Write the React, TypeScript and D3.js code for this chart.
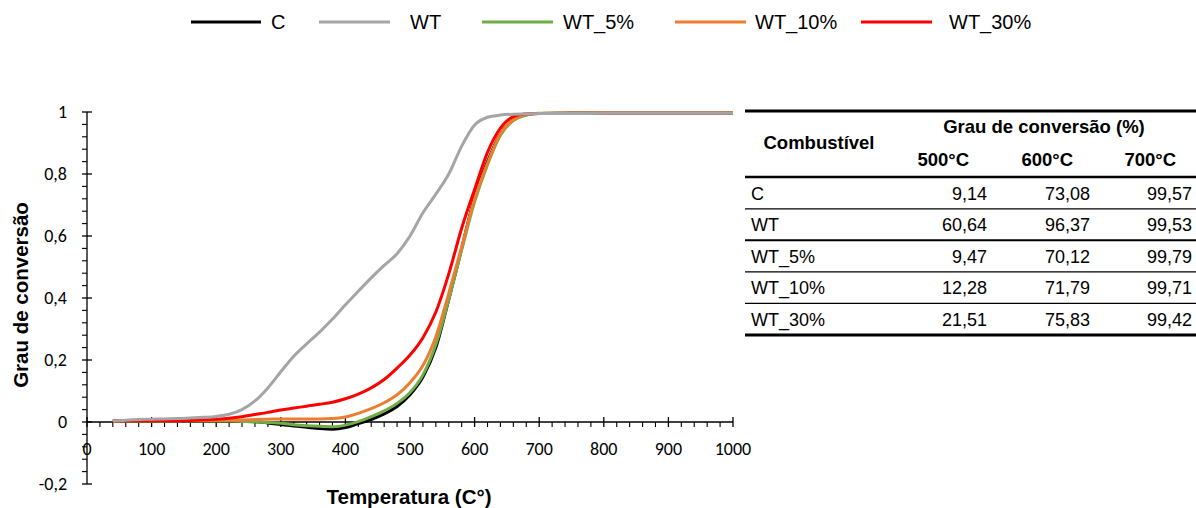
import React from "react";
import * as d3 from "d3";

// temperatura (°C) shared by every series
const temps = [40, 60, 80, 100, 120, 140, 160, 180, 200, 220, 240, 260, 280, 300, 320, 340, 360, 380, 400, 420, 440, 460, 480, 500, 520, 540, 560, 580, 600, 620, 640, 660, 680, 700, 750, 800, 850, 900, 950, 1000];

const serieC = [0.003, 0.003, 0.003, 0.003, 0.003, 0.003, 0.003, 0.003, 0.003, 0.003, 0.002, 0.001, -0.003, -0.008, -0.013, -0.017, -0.021, -0.023, -0.018, -0.005, 0.008, 0.026, 0.05, 0.088, 0.145, 0.24, 0.395, 0.56, 0.725, 0.84, 0.93, 0.975, 0.991, 0.995, 0.996, 0.996, 0.996, 0.996, 0.996, 0.996];
const serieWT = [0.003, 0.006, 0.008, 0.009, 0.01, 0.011, 0.013, 0.015, 0.018, 0.025, 0.04, 0.068, 0.11, 0.162, 0.212, 0.252, 0.29, 0.332, 0.378, 0.422, 0.465, 0.505, 0.543, 0.6, 0.675, 0.735, 0.8, 0.89, 0.958, 0.983, 0.99, 0.993, 0.994, 0.995, 0.995, 0.996, 0.996, 0.996, 0.996, 0.996];
const serieWT5 = [0.003, 0.003, 0.003, 0.003, 0.003, 0.003, 0.003, 0.003, 0.003, 0.003, 0.002, 0.001, -0.002, -0.004, -0.009, -0.012, -0.014, -0.015, -0.01, 0.001, 0.017, 0.036, 0.06, 0.095, 0.152, 0.25, 0.395, 0.555, 0.71, 0.83, 0.925, 0.972, 0.99, 0.996, 0.997, 0.997, 0.997, 0.997, 0.997, 0.997];
const serieWT10 = [0.003, 0.004, 0.004, 0.004, 0.004, 0.004, 0.005, 0.005, 0.005, 0.006, 0.006, 0.008, 0.009, 0.01, 0.01, 0.01, 0.01, 0.011, 0.016, 0.028, 0.043, 0.062, 0.088, 0.127, 0.182, 0.275, 0.415, 0.565, 0.72, 0.835, 0.93, 0.975, 0.992, 0.995, 0.996, 0.996, 0.996, 0.996, 0.996, 0.996];
const serieWT30 = [0.003, 0.004, 0.004, 0.004, 0.004, 0.004, 0.005, 0.007, 0.009, 0.012, 0.017, 0.024, 0.031, 0.039, 0.045, 0.051, 0.057, 0.064, 0.075, 0.09, 0.11, 0.137, 0.174, 0.216, 0.272, 0.355, 0.478, 0.625, 0.75, 0.87, 0.948, 0.985, 0.994, 0.995, 0.996, 0.996, 0.996, 0.996, 0.996, 0.996];

const names = ["C", "WT", "WT_5%", "WT_10%", "WT_30%"];
const colors = ["#000000", "#a5a5a5", "#70ad47", "#ed7d31", "#ff0000"];
const series = [serieC, serieWT, serieWT5, serieWT10, serieWT30];

// tabela
const tableHeader = ["500°C", "600°C", "700°C"];
const conv500 = [9.14, 60.64, 9.47, 12.28, 21.51];
const conv600 = [73.08, 96.37, 70.12, 71.79, 75.83];
const conv700 = [99.57, 99.53, 99.79, 99.71, 99.42];

const W = 1196;
const H = 508;

const x = d3.scaleLinear().domain([0, 1000]).range([87, 733]);
const y = d3.scaleLinear().domain([-0.2, 1]).range([484, 112]);

const fmt = (v: number) => (v === 0 ? "0" : v === 1 ? "1" : v.toFixed(1).replace(".", ","));
const fmt2 = (v: number) => v.toFixed(2).replace(".", ",");

const tickFont = "Carlito, Calibri, Lato, sans-serif";
const arial = "Arial, 'Liberation Sans', sans-serif";

export default function App() {
  const line = d3
    .line<number>()
    .x((_, i) => x(temps[i]))
    .y((d) => y(d))
    .curve(d3.curveMonotoneX);

  const xMajor = d3.range(0, 1001, 100);
  const xMinor = d3.range(0, 1001, 20).filter((t) => t % 100 !== 0);
  const yMajor = [-0.2, 0, 0.2, 0.4, 0.6, 0.8, 1];
  const yMinor = d3.range(-0.2, 1.0001, 0.04).filter((v) => !yMajor.some((m) => Math.abs(m - v) < 1e-6));

  // drawing order: gray on top
  const order = [0, 2, 3, 4, 1];

  const legendLines = [[191, 261], [319, 390], [482, 553], [675, 746], [861, 932]];
  const legendText = [271, 410, 563, 755, 949];

  const rowY = [193.5, 225, 256.5, 288, 319.5];
  const rowLines = [
    { y: 208.8, w: 1.3 },
    { y: 240.3, w: 2 },
    { y: 271.8, w: 1.3 },
    { y: 303.3, w: 1.3 },
  ];
  const valRight = [987, 1090, 1192];
  const headRight = [969, 1073, 1176];

  return (
    <svg width={W} height={H} style={{ position: "absolute", left: 0, top: 0, background: "#fff" }}>
      {/* legend */}
      {names.map((n, i) => (
        <g key={n}>
          <line x1={legendLines[i][0]} x2={legendLines[i][1]} y1={22} y2={22} stroke={colors[i]} strokeWidth={3} />
          <text x={legendText[i]} y={22} dy="0.35em" fontFamily={arial} fontSize={20} fill="#000">
            {n}
          </text>
        </g>
      ))}

      {/* y axis */}
      <line x1={x(0)} x2={x(0)} y1={y(1)} y2={y(-0.2)} stroke="#000" strokeWidth={1.3} />
      {yMajor.map((v) => (
        <g key={"ym" + v}>
          <line x1={x(0) - 5} x2={x(0) + 5} y1={y(v)} y2={y(v)} stroke="#000" strokeWidth={1.3} />
          <text x={67} y={y(v)} dy="0.35em" textAnchor="end" fontFamily={tickFont} fontSize={18} fill="#000">
            {fmt(v)}
          </text>
        </g>
      ))}
      {yMinor.map((v) => (
        <line key={"yn" + v} x1={x(0) - 5} x2={x(0)} y1={y(v)} y2={y(v)} stroke="#000" strokeWidth={1.1} />
      ))}

      {/* x axis at zero */}
      <line x1={x(0)} x2={x(1000)} y1={y(0)} y2={y(0)} stroke="#000" strokeWidth={1.3} />
      {xMajor.map((t) => (
        <g key={"xm" + t}>
          <line x1={x(t)} x2={x(t)} y1={y(0) - 5} y2={y(0) + 5} stroke="#000" strokeWidth={1.3} />
          <text x={x(t)} y={449} dy="0.35em" textAnchor="middle" fontFamily={tickFont} fontSize={18} fill="#000">
            {t}
          </text>
        </g>
      ))}
      {xMinor.map((t) => (
        <line key={"xn" + t} x1={x(t)} x2={x(t)} y1={y(0)} y2={y(0) + 5} stroke="#000" strokeWidth={1.1} />
      ))}

      {/* axis titles */}
      <text
        transform={`translate(21, 295) rotate(-90)`}
        textAnchor="middle"
        dy="0.35em"
        fontFamily={arial}
        fontWeight="bold"
        fontSize={20.5}
        fill="#000"
      >
        Grau de conversão
      </text>
      <text x={409} y={497} dy="0.35em" textAnchor="middle" fontFamily={arial} fontWeight="bold" fontSize={20.5} fill="#000">
        Temperatura (C°)
      </text>

      {/* curves */}
      {order.map((i) => (
        <path key={names[i]} d={line(series[i]) || ""} fill="none" stroke={colors[i]} strokeWidth={3} strokeLinejoin="round" />
      ))}

      {/* table */}
      <g fontFamily={arial} fill="#000">
        <line x1={745} x2={W} y1={111} y2={111} stroke="#000" strokeWidth={3} />
        <text x={1044} y={127} dy="0.35em" textAnchor="middle" fontWeight="bold" fontSize={18.5}>
          Grau de conversão (%)
        </text>
        <text x={819} y={143} dy="0.35em" textAnchor="middle" fontWeight="bold" fontSize={18.5}>
          Combustível
        </text>
        {tableHeader.map((h, j) => (
          <text key={h} x={headRight[j]} y={160} dy="0.35em" textAnchor="end" fontWeight="bold" fontSize={18.5}>
            {h}
          </text>
        ))}
        <line x1={745} x2={W} y1={177} y2={177} stroke="#000" strokeWidth={2.5} />
        {names.map((n, i) => (
          <g key={"row" + n}>
            <text x={751} y={rowY[i]} dy="0.35em" fontSize={18}>
              {n}
            </text>
            {[conv500[i], conv600[i], conv700[i]].map((v, j) => (
              <text key={j} x={valRight[j]} y={rowY[i]} dy="0.35em" textAnchor="end" fontSize={18}>
                {fmt2(v)}
              </text>
            ))}
          </g>
        ))}
        {rowLines.map((r) => (
          <line key={r.y} x1={745} x2={W} y1={r.y} y2={r.y} stroke="#000" strokeWidth={r.w} />
        ))}
        <line x1={745} x2={W} y1={335} y2={335} stroke="#000" strokeWidth={3} />
      </g>
    </svg>
  );
}
